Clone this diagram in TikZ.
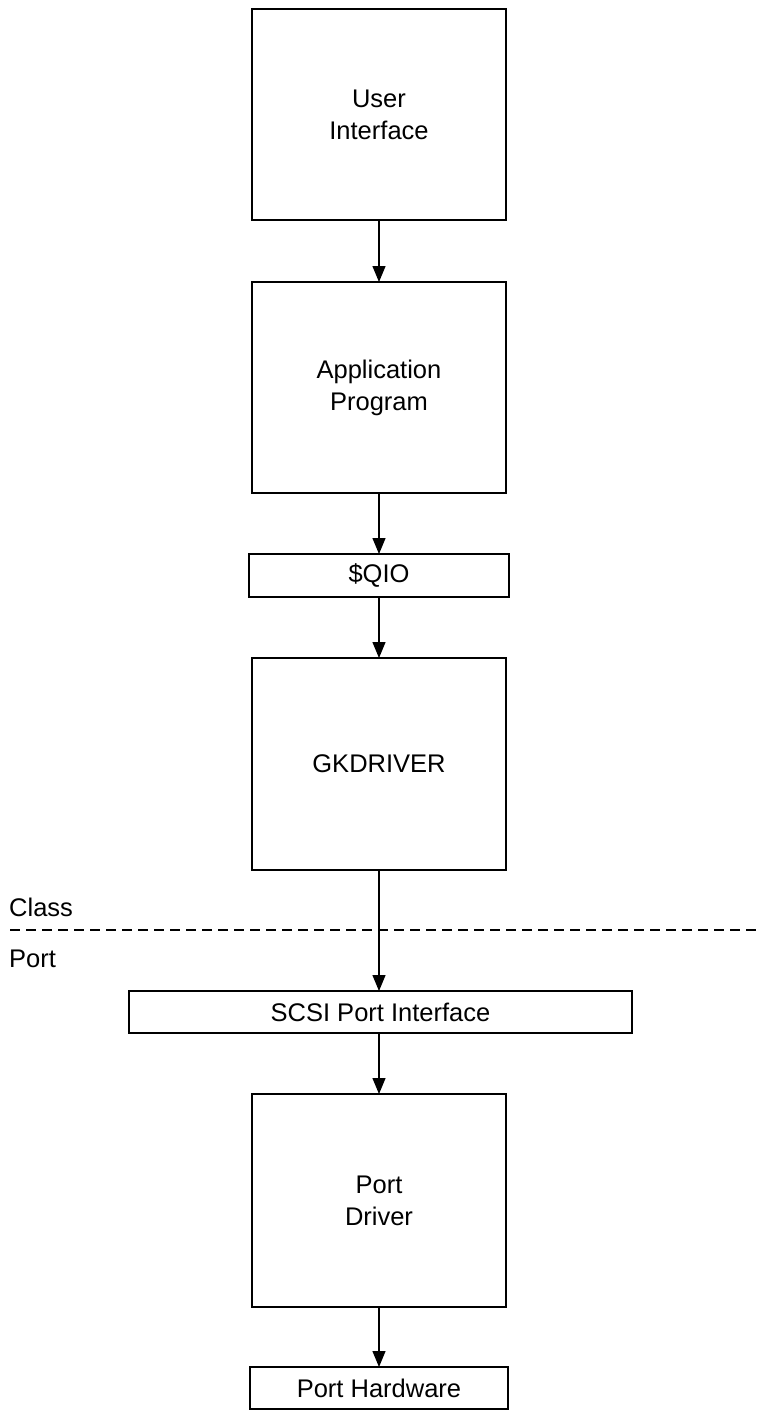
\documentclass[tikz,border=0pt]{standalone}
\usepackage{fontspec}
\setmainfont{Liberation Sans}
\usepackage{tikz}
\usetikzlibrary{positioning,arrows.meta}

\begin{document}
\begin{tikzpicture}[x=1pt, y=-1pt,
  blk/.style={draw, line width=2pt, inner sep=0pt, outer sep=0pt, align=center,
              font=\fontsize{25.5}{32}\selectfont,
              minimum width=254pt, minimum height=211pt},
  bar/.style={blk, minimum height=42pt},
  lbl/.style={anchor=west, inner sep=0pt, font=\fontsize{25.5}{32}\selectfont},
  arr/.style={-{Triangle[length=16pt, width=13pt]}, line width=1.3pt}]
\useasboundingbox (0,0) rectangle (756,1410);
\node[blk] (ui)   at (379,114.5)  {User\\Interface};
\node[blk] (app)  at (379,387.5)  {Application\\Program};
\node[bar, minimum width=260pt, minimum height=43pt] (qio) at (379,575.5) {\$QIO};
\node[blk, minimum height=212pt] (gk) at (379,764) {GKDRIVER};
\node[bar, minimum width=503pt] (scsi) at (380.5,1012) {SCSI Port Interface};
\node[blk, minimum height=213pt] (pd) at (379,1200.5) {Port\\Driver};
\node[bar, minimum width=258pt] (hw) at (379,1388) {Port Hardware};
% class / port boundary
\node[lbl] (cls)  at (9,907) {Class};
\node[lbl] (prt)  at (9,959) {Port};
\draw[line width=2pt, dash pattern=on 10pt off 6pt] (10,930) -- (756,930);
\draw[arr] (ui) -- (app);
\draw[arr] (app) -- (qio);
\draw[arr] (qio) -- (gk);
\draw[arr] (gk.south) -- (gk.south |- scsi.north);
\draw[arr] (gk.south |- scsi.south) -- (pd.north);
\draw[arr] (pd) -- (hw);
\end{tikzpicture}
\end{document}
